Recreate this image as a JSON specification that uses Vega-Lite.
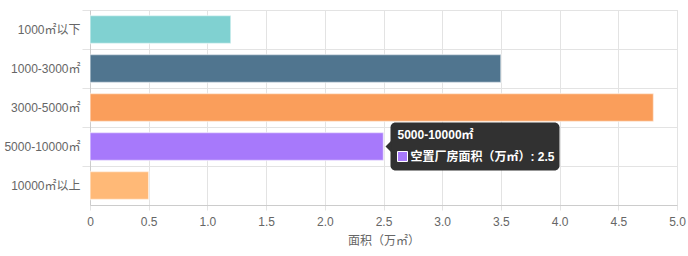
{
  "$schema": "https://vega.github.io/schema/vega-lite/v6.json",
  "autosize": "none",
  "width": 587,
  "height": 195,
  "padding": {"left": 90, "top": 10, "right": 11, "bottom": 51},
  "background": "#ffffff",
  "config": {
    "view": {"stroke": "#e3e3e3", "strokeWidth": 1},
    "font": "Liberation Sans, Noto Sans CJK SC, sans-serif",
    "axis": {"labelFont": "Liberation Sans, Noto Sans CJK SC, sans-serif", "titleFont": "Liberation Sans, Noto Sans CJK SC, sans-serif"}
  },
  "data": {
    "values": [
      {"cat": "1000㎡以下", "value": 1.2},
      {"cat": "1000-3000㎡", "value": 3.5},
      {"cat": "3000-5000㎡", "value": 4.8},
      {"cat": "5000-10000㎡", "value": 2.5},
      {"cat": "10000㎡以上", "value": 0.5}
    ]
  },
  "encoding": {
    "y": {
      "field": "cat", "type": "nominal", "sort": null,
      "scale": {"paddingInner": 0, "paddingOuter": 0},
      "axis": {
        "title": null, "bandPosition": 0, "grid": true, "gridColor": "#e3e3e3",
        "tickColor": "#e3e3e3", "tickSize": 8, "domainColor": "#cccccc",
        "labelColor": "#666666", "labelFontSize": 12, "labelPadding": 2
      }
    },
    "x": {
      "field": "value", "type": "quantitative",
      "scale": {"domain": [0, 5], "nice": false},
      "axis": {
        "title": "面积（万㎡）", "values": [0, 0.5, 1, 1.5, 2, 2.5, 3, 3.5, 4, 4.5, 5],
        "labelExpr": "datum.value == 0 ? '0' : format(datum.value, '.1f')",
        "grid": true, "gridColor": "#e3e3e3", "tickColor": "#e3e3e3", "tickSize": 5,
        "domainColor": "#cccccc", "labelColor": "#666666", "labelFontSize": 12,
        "labelPadding": 6, "titleColor": "#666666", "titleFontSize": 12,
        "titleFontWeight": "normal", "titlePadding": 8, "labelFlush": false
      }
    }
  },
  "layer": [
    {
      "mark": {"type": "bar", "height": {"band": 0.72}, "stroke": "#ffffff", "strokeOpacity": 0.55, "strokeWidth": 1.5},
      "encoding": {
        "color": {
          "field": "cat", "type": "nominal", "sort": null, "legend": null,
          "scale": {"range": ["#80D1D1", "#50758F", "#FA9E5B", "#A779FB", "#FFB977"]}
        }
      }
    },
    {
      "transform": [{"filter": "datum.cat == '5000-10000㎡'"}],
      "layer": [
        {
          "mark": {"type": "bar", "height": 48, "xOffset": 7, "x2Offset": 176, "cornerRadius": 5, "fill": "#313131", "fillOpacity": 1},
          "encoding": {"x2": {"field": "value"}}
        },
        {
          "mark": {"type": "point", "shape": "M1,-1L0,0L1,1Z", "size": 144, "filled": true, "fill": "#313131", "opacity": 1, "xOffset": 2},
          "encoding": {}
        },
        {
          "mark": {"type": "text", "align": "left", "baseline": "middle", "dx": 14, "dy": -12, "fontSize": 12, "fontWeight": "bold", "color": "#ffffff"},
          "encoding": {"text": {"field": "cat"}}
        },
        {
          "mark": {"type": "square", "size": 100, "xOffset": 19, "yOffset": 10, "fill": "#A779FB", "opacity": 1, "stroke": "#ffffff", "strokeWidth": 1},
          "encoding": {}
        },
        {
          "mark": {"type": "text", "align": "left", "baseline": "middle", "dx": 27, "dy": 10, "fontSize": 12, "fontWeight": "bold", "color": "#ffffff"},
          "encoding": {"text": {"value": "空置厂房面积（万㎡）: 2.5"}}
        }
      ]
    }
  ]
}
